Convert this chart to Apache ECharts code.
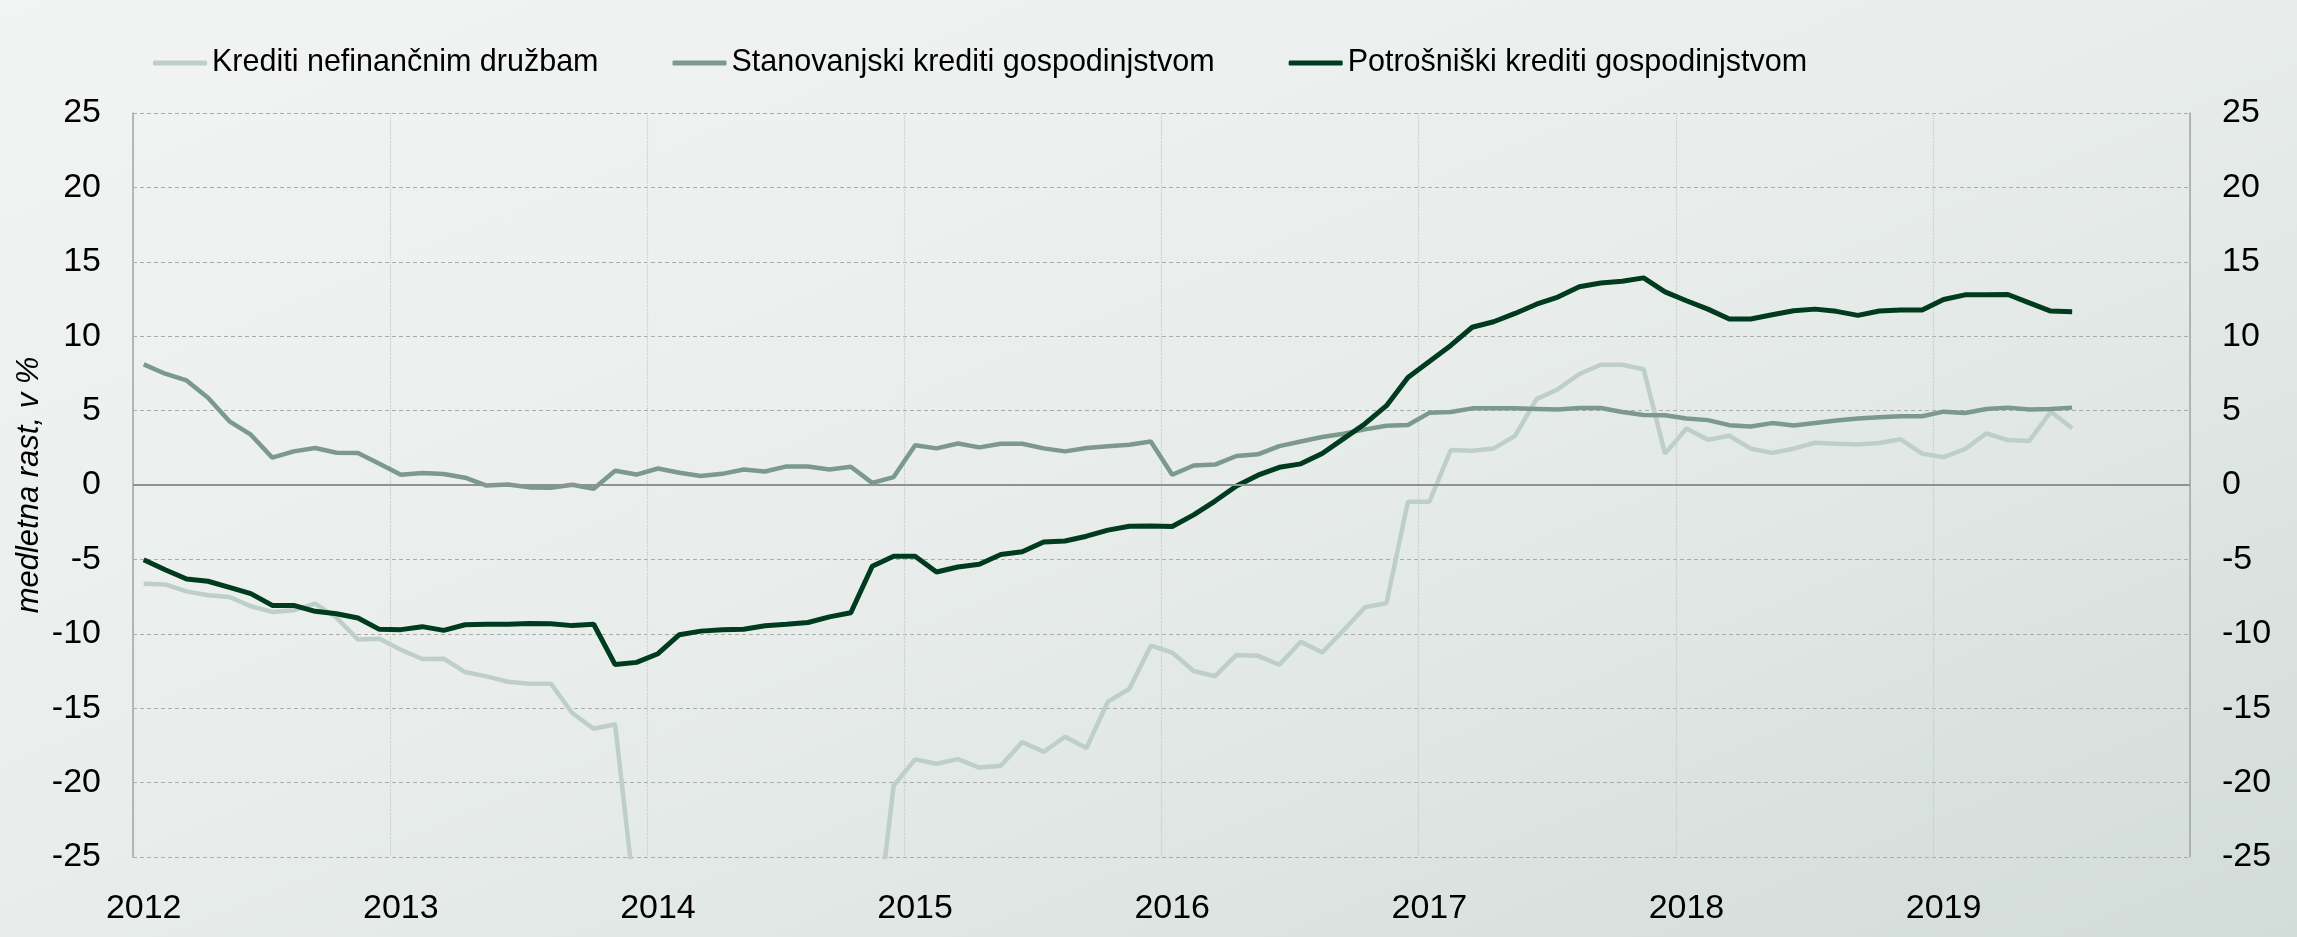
<!DOCTYPE html>
<html>
<head>
<meta charset="utf-8">
<script src="https://cdn.jsdelivr.net/npm/echarts@6/dist/echarts.min.js"></script>
<style>
  html, body { margin: 0; padding: 0; }
  body { background: linear-gradient(to bottom right, #f2f4f3 0%, #e8edeb 50%, #d2dcd8 100%); }
  #chart { width: 2297px; height: 937px; }
</style>
</head>
<body>
<div id="chart"></div>
<script>
// month categories Jan 2012 .. Dec 2019, labelled by year
const years = ['2012', '2013', '2014', '2015', '2016', '2017', '2018', '2019']
const months = []
years.forEach((y) => {
  for (let m = 1; m <= 12; m++) months.push(y + '-' + String(m).padStart(2, '0'))
})

const seriesNames = [
  'Krediti nefinančnim družbam',
  'Stanovanjski krediti gospodinjstvom',
  'Potrošniški krediti gospodinjstvom',
]

// medletna rast, v % (Jan 2012 .. Jul 2019)
const nefinancne = [
  -6.63, -6.68, -7.15, -7.41, -7.53, -8.15, -8.53, -8.42, -7.97, -8.92, -10.39, -10.33,
  -11.07, -11.69, -11.67, -12.57, -12.86, -13.22, -13.35, -13.35, -15.32, -16.38, -16.08, -28.8,
  -30.5, -31.2, -31.0, -32.1, -31.8, -32.6, -33.0, -32.5, -33.2, -33.4, -32.4, -20.2,
  -18.44, -18.73, -18.42, -18.99, -18.87, -17.28, -17.93, -16.92, -17.67, -14.56, -13.7, -10.8,
  -11.26, -12.5, -12.85, -11.42, -11.48, -12.08, -10.53, -11.26, -9.76, -8.21, -7.94, -1.13,
  -1.13, 2.35, 2.3, 2.46, 3.3, 5.77, 6.44, 7.46, 8.08, 8.08, 7.78, 2.11,
  3.8, 3.04, 3.31, 2.44, 2.16, 2.44, 2.84, 2.78, 2.73, 2.82, 3.07, 2.11,
  1.87, 2.42, 3.47, 3.02, 2.96, 4.93, 3.82,
]
const stanovanjski = [
  8.11, 7.48, 7.03, 5.87, 4.28, 3.38, 1.84, 2.26, 2.49, 2.17, 2.15, 1.43,
  0.69, 0.81, 0.74, 0.49, -0.04, 0.04, -0.16, -0.18, 0.02, -0.25, 0.96, 0.7,
  1.11, 0.82, 0.6, 0.75, 1.04, 0.91, 1.25, 1.25, 1.04, 1.23, 0.14, 0.53,
  2.67, 2.46, 2.79, 2.53, 2.77, 2.77, 2.46, 2.26, 2.48, 2.6, 2.7, 2.92,
  0.69, 1.31, 1.37, 1.95, 2.06, 2.61, 2.92, 3.23, 3.45, 3.74, 3.98, 4.03,
  4.85, 4.91, 5.15, 5.15, 5.15, 5.11, 5.07, 5.18, 5.18, 4.91, 4.71, 4.69,
  4.47, 4.36, 4.02, 3.93, 4.16, 4.0, 4.16, 4.33, 4.47, 4.56, 4.62, 4.62,
  4.93, 4.84, 5.11, 5.2, 5.07, 5.11, 5.2,
]
const potrosniski = [
  -5.02, -5.69, -6.32, -6.47, -6.88, -7.3, -8.09, -8.09, -8.49, -8.65, -8.94, -9.7,
  -9.72, -9.52, -9.77, -9.39, -9.36, -9.36, -9.3, -9.32, -9.45, -9.36, -12.07, -11.92,
  -11.34, -10.06, -9.82, -9.73, -9.7, -9.46, -9.36, -9.24, -8.86, -8.59, -5.46, -4.79,
  -4.79, -5.85, -5.51, -5.32, -4.67, -4.48, -3.83, -3.76, -3.44, -3.03, -2.77, -2.76,
  -2.79, -2.01, -1.08, -0.07, 0.66, 1.19, 1.42, 2.12, 3.12, 4.12, 5.33, 7.23,
  8.3, 9.38, 10.6, 10.97, 11.53, 12.15, 12.63, 13.32, 13.58, 13.69, 13.92, 12.98,
  12.38, 11.82, 11.16, 11.16, 11.44, 11.71, 11.82, 11.67, 11.4, 11.69, 11.76, 11.76,
  12.47, 12.78, 12.78, 12.8, 12.24, 11.69, 11.64,
]

const colors = ['#bdcfc8', '#7c998d', '#003b20']
const font = "'Liberation Sans', Arial, sans-serif"

const yAxisBase = {
  type: 'value',
  min: -25,
  max: 25,
  interval: 5,
  axisTick: { show: false },
  axisLine: { show: true, lineStyle: { color: '#a3a7a5', width: 1.5 } },
  axisLabel: { color: '#000', fontSize: 34, fontFamily: font, margin: 32 },
}

const chart = echarts.init(document.getElementById('chart'))
chart.setOption({
  backgroundColor: 'transparent',
  color: colors,
  animation: false,
  grid: { left: 133, right: 107, top: 113, bottom: 80, outerBoundsMode: 'none', containLabel: false },
  legend: {
    left: 148,
    top: 40,
    icon: 'roundRect',
    itemWidth: 54,
    itemHeight: 5,
    itemGap: 74,
    textStyle: { color: '#000', fontSize: 30.5, fontFamily: font, lineHeight: 36 },
    data: seriesNames,
  },
  xAxis: {
    type: 'category',
    data: months,
    boundaryGap: true,
    axisLine: { show: false },
    axisTick: { show: false },
    axisLabel: {
      interval: (i) => i % 12 === 0,
      formatter: (v) => v.slice(0, 4),
      color: '#000',
      fontSize: 34,
      lineHeight: 36,
      fontFamily: font,
      margin: 34,
    },
    splitLine: {
      show: true,
      interval: (i) => i % 12 === 0,
      lineStyle: { color: '#c4c8c6', type: 'dotted', width: 1.2 },
    },
  },
  yAxis: [
    {
      ...yAxisBase,
      position: 'left',
      name: 'medletna rast, v %',
      nameLocation: 'middle',
      nameRotate: 90,
      nameGap: 88,
      nameMoveOverlap: false,
      nameTextStyle: { color: '#000', fontSize: 31, fontStyle: 'italic', fontFamily: font },
      splitLine: { show: true, lineStyle: { color: '#a9acaa', type: [4, 3], width: 1.2 } },
    },
    {
      ...yAxisBase,
      position: 'right',
      splitLine: { show: false },
    },
  ],
  series: [
    {
      name: seriesNames[0],
      type: 'line',
      data: nefinancne,
      symbol: 'none',
      clip: true,
      lineStyle: { width: 4.5 },
      markLine: {
        silent: true,
        symbol: 'none',
        label: { show: false },
        lineStyle: { color: '#8e9290', type: 'solid', width: 2 },
        data: [{ yAxis: 0 }],
      },
    },
    { name: seriesNames[1], type: 'line', data: stanovanjski, symbol: 'none', clip: true, lineStyle: { width: 4.5 } },
    { name: seriesNames[2], type: 'line', data: potrosniski, symbol: 'none', clip: true, lineStyle: { width: 5 } },
  ],
})
</script>
</body>
</html>
